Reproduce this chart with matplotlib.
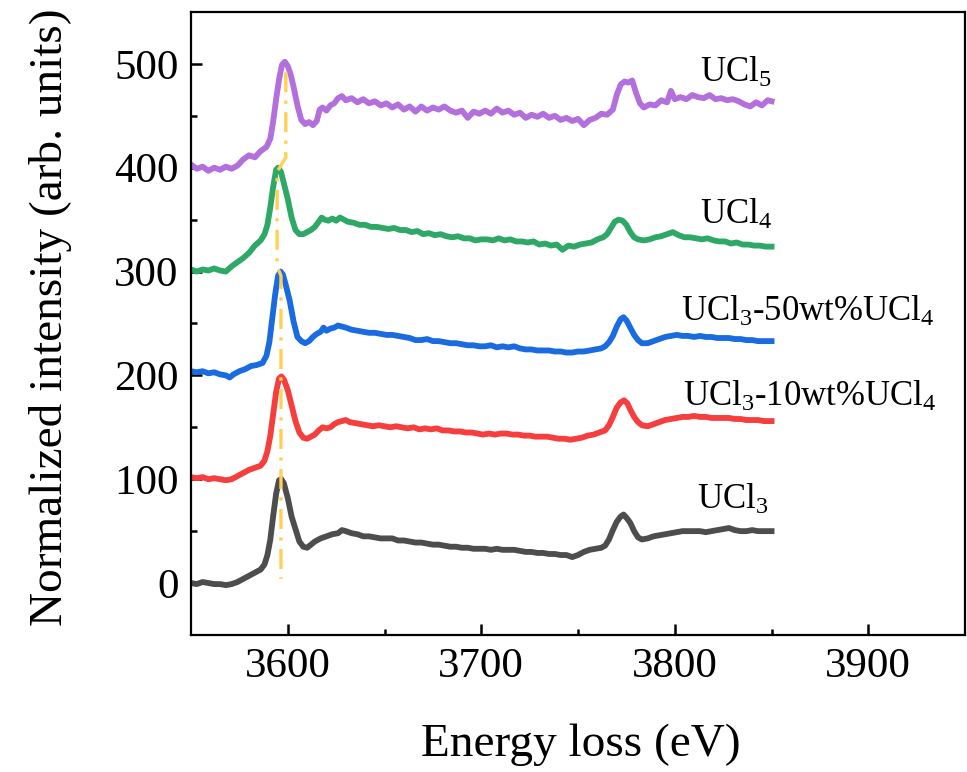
import numpy as np
import matplotlib
matplotlib.use("Agg")
import matplotlib.pyplot as plt

plt.rcParams["font.family"] = ["Liberation Serif", "DejaVu Serif"]
plt.rcParams["mathtext.fontset"] = "custom"
plt.rcParams["mathtext.rm"] = "Liberation Serif"
plt.rcParams["mathtext.it"] = "Liberation Serif:italic"

# (energy loss eV, intensity), curves already offset
ucl5 = [
    (3550, 403), (3553, 399), (3556, 401), (3559, 397), (3562, 400), (3565, 398), (3568, 401),
    (3571, 399), (3574, 402), (3577, 408), (3580, 412), (3583, 410), (3586, 416), (3589, 420),
    (3591, 428), (3592.5, 445), (3594, 466), (3595.5, 485), (3597, 499), (3598.5, 502),
    (3600, 498), (3601.5, 490), (3603, 478), (3605, 460), (3607, 446), (3609, 442), (3611, 444),
    (3613, 441), (3615, 445), (3616.5, 456), (3618, 458), (3620, 455), (3622, 460), (3624, 462),
    (3626, 467), (3628, 469), (3630, 465), (3633, 467), (3636, 463), (3639, 466), (3642, 462),
    (3645, 464), (3648, 460), (3651, 462), (3654, 458), (3657, 461), (3660, 456), (3663, 459),
    (3666, 454), (3669, 459), (3672, 455), (3675, 458), (3678, 456), (3681, 459), (3684, 455),
    (3687, 453), (3690, 455), (3693, 448), (3696, 454), (3699, 452), (3702, 455), (3705, 452),
    (3708, 457), (3711, 453), (3714, 455), (3717, 451), (3720, 453), (3723, 448), (3726, 451),
    (3729, 449), (3732, 452), (3735, 448), (3738, 450), (3741, 446), (3744, 448), (3747, 445),
    (3750, 447), (3753, 441), (3756, 446), (3759, 448), (3762, 452), (3765, 451), (3768, 456),
    (3770, 470), (3772, 480), (3774, 483), (3776, 482), (3778, 484), (3780, 472), (3782, 462),
    (3784, 458), (3787, 461), (3790, 460), (3793, 465), (3796, 463), (3798, 474), (3800, 466),
    (3803, 468), (3806, 466), (3809, 470), (3812, 468), (3815, 467), (3818, 470), (3821, 466),
    (3824, 467), (3827, 465), (3830, 466), (3833, 464), (3836, 461), (3839, 459), (3842, 463),
    (3845, 460), (3848, 465), (3850, 464),
]
ucl4 = [
    (3550, 302), (3553, 300), (3556, 302), (3559, 301), (3562, 303), (3565, 301), (3568, 300),
    (3571, 305), (3574, 309), (3577, 313), (3580, 318), (3583, 325), (3586, 330), (3588, 336),
    (3589.5, 345), (3591, 362), (3592.5, 382), (3594, 398), (3595, 400), (3596.5, 396),
    (3598, 385), (3600, 370), (3602, 352), (3604, 340), (3606, 336), (3608, 336), (3610, 338),
    (3612, 340), (3614, 343), (3616, 348), (3617.5, 352), (3619, 350), (3621, 349), (3623, 351),
    (3625, 349), (3627, 352), (3629, 350), (3631, 348), (3634, 347), (3637, 345), (3640, 345),
    (3643, 343), (3646, 343), (3649, 342), (3652, 341), (3655, 342), (3658, 340), (3661, 340),
    (3664, 338), (3667, 339), (3670, 336), (3673, 337), (3676, 335), (3679, 336), (3682, 334),
    (3685, 333), (3688, 334), (3691, 332), (3694, 332), (3697, 330), (3700, 331), (3703, 331),
    (3706, 330), (3709, 332), (3712, 330), (3715, 331), (3718, 329), (3721, 329), (3724, 328),
    (3727, 329), (3730, 326), (3733, 327), (3736, 325), (3739, 326), (3742, 321), (3745, 325),
    (3748, 324), (3751, 326), (3754, 327), (3757, 328), (3760, 331), (3763, 333), (3765, 336),
    (3767, 342), (3769, 348), (3771, 350), (3773, 349), (3775, 345), (3777, 338), (3779, 333),
    (3781, 331), (3784, 330), (3787, 331), (3790, 333), (3793, 334), (3796, 336), (3799, 338),
    (3802, 335), (3805, 333), (3808, 333), (3811, 332), (3814, 331), (3817, 332), (3820, 330),
    (3823, 329), (3826, 329), (3829, 327), (3832, 328), (3835, 326), (3838, 326), (3841, 325),
    (3844, 325), (3847, 324), (3850, 324),
]
ucl3_50 = [
    (3550, 204), (3553, 203), (3556, 204), (3559, 202), (3562, 203), (3565, 201), (3568, 200),
    (3570, 198), (3572, 201), (3575, 204), (3578, 206), (3581, 209), (3584, 210), (3587, 212),
    (3589, 219), (3590.5, 232), (3592, 255), (3593.5, 278), (3595, 296), (3596.3, 300),
    (3597.5, 297), (3599, 287), (3601, 272), (3603, 252), (3605, 237), (3607, 233), (3609, 231),
    (3611, 233), (3613, 237), (3615, 240), (3617, 242), (3618.5, 246), (3620, 243), (3622, 245),
    (3624, 246), (3626, 248), (3628, 247), (3630, 246), (3633, 244), (3636, 243), (3639, 242),
    (3642, 241), (3645, 241), (3648, 240), (3651, 239), (3654, 239), (3657, 238), (3660, 237),
    (3663, 236), (3666, 234), (3669, 234), (3672, 235), (3675, 233), (3678, 233), (3681, 232),
    (3684, 231), (3687, 231), (3690, 230), (3693, 229), (3696, 229), (3699, 228), (3702, 228),
    (3705, 229), (3708, 227), (3711, 228), (3714, 227), (3717, 228), (3720, 226), (3723, 225),
    (3726, 225), (3729, 224), (3732, 224), (3735, 224), (3738, 223), (3741, 223), (3744, 222),
    (3747, 222), (3750, 223), (3753, 223), (3756, 224), (3759, 225), (3762, 226), (3764, 228),
    (3766, 232), (3768, 238), (3770, 247), (3772, 254), (3773.5, 256), (3775, 253), (3777, 246),
    (3779, 239), (3781, 234), (3783, 231), (3786, 231), (3789, 233), (3792, 235), (3795, 237),
    (3798, 238), (3801, 239), (3804, 238), (3807, 238), (3810, 237), (3813, 238), (3816, 237),
    (3819, 237), (3822, 236), (3825, 236), (3828, 236), (3831, 235), (3834, 235), (3837, 234),
    (3840, 234), (3843, 233), (3846, 233), (3850, 233),
]
ucl3_10 = [
    (3550, 102), (3553, 101), (3556, 102), (3559, 100), (3562, 101), (3565, 100), (3568, 99),
    (3571, 100), (3574, 103), (3577, 106), (3580, 109), (3583, 111), (3586, 113), (3588, 118),
    (3589.5, 127), (3591, 142), (3592.5, 163), (3594, 184), (3595.5, 197), (3596.7, 199),
    (3598, 196), (3600, 186), (3602, 171), (3604, 156), (3606, 145), (3608, 140), (3610, 139),
    (3612, 141), (3614, 143), (3616, 147), (3618, 150), (3620, 149), (3622, 150), (3624, 153),
    (3626, 155), (3628, 156), (3630, 157), (3632, 155), (3635, 154), (3638, 153), (3641, 152),
    (3644, 151), (3647, 152), (3650, 151), (3653, 150), (3656, 151), (3659, 150), (3662, 149),
    (3665, 150), (3668, 148), (3671, 149), (3674, 148), (3677, 149), (3680, 147), (3683, 147),
    (3686, 146), (3689, 146), (3692, 145), (3695, 145), (3698, 144), (3701, 143), (3704, 144),
    (3707, 143), (3710, 144), (3713, 144), (3716, 143), (3719, 143), (3722, 142), (3725, 142),
    (3728, 141), (3731, 141), (3734, 141), (3737, 140), (3740, 139), (3743, 139), (3746, 138),
    (3749, 139), (3752, 140), (3755, 142), (3758, 143), (3761, 145), (3764, 147), (3766, 152),
    (3768, 160), (3770, 169), (3772, 174), (3773.8, 176), (3775.5, 173), (3777, 167),
    (3779, 160), (3781, 155), (3783, 152), (3786, 151), (3789, 153), (3792, 155), (3795, 157),
    (3798, 158), (3801, 159), (3804, 160), (3807, 160), (3810, 161), (3813, 160), (3816, 160),
    (3819, 159), (3822, 159), (3825, 159), (3828, 159), (3831, 158), (3834, 158), (3837, 157),
    (3840, 157), (3843, 157), (3846, 156), (3850, 156),
]
ucl3 = [
    (3550, 0), (3553, -1), (3556, 1), (3559, 0), (3562, -1), (3565, -1), (3568, -2),
    (3571, -1), (3574, 1), (3577, 4), (3580, 7), (3583, 10), (3586, 13), (3588, 18),
    (3589.5, 27), (3591, 42), (3592.5, 65), (3594, 86), (3595.5, 99), (3596.7, 100),
    (3598, 96), (3600, 82), (3602, 64), (3604, 52), (3606, 40), (3608, 35), (3610, 34),
    (3612, 37), (3614, 40), (3617, 43), (3620, 45), (3623, 47), (3626, 48), (3628, 51),
    (3630, 50), (3633, 48), (3636, 47), (3639, 45), (3642, 45), (3645, 44), (3648, 43),
    (3651, 43), (3654, 43), (3657, 41), (3660, 41), (3663, 40), (3666, 39), (3669, 39),
    (3672, 38), (3675, 37), (3678, 37), (3681, 36), (3684, 35), (3687, 35), (3690, 34),
    (3693, 34), (3696, 33), (3699, 33), (3702, 33), (3705, 32), (3708, 33), (3711, 32),
    (3714, 32), (3717, 32), (3720, 31), (3723, 30), (3726, 30), (3729, 29), (3732, 29),
    (3735, 28), (3738, 28), (3741, 27), (3744, 27), (3747, 25), (3750, 27), (3753, 30),
    (3756, 32), (3759, 33), (3762, 34), (3764, 36), (3766, 42), (3768, 51), (3770, 59),
    (3772, 64), (3773.5, 66), (3775, 63), (3777, 58), (3779, 50), (3781, 44), (3783, 42),
    (3786, 43), (3789, 45), (3792, 46), (3795, 47), (3798, 48), (3801, 49), (3804, 50),
    (3807, 50), (3810, 50), (3813, 50), (3816, 49), (3819, 50), (3822, 51), (3825, 52),
    (3828, 53), (3831, 51), (3834, 50), (3837, 50), (3840, 51), (3843, 50), (3846, 50),
    (3850, 50),
]

# guide line through the main edge peaks
guide_x = [3599, 3599, 3594.5, 3594.5, 3596.5, 3596.5]
guide_y = [492, 410, 396, 305, 296, 4]

labels = ["UCl$_3$", "UCl$_3$-10wt%UCl$_4$", "UCl$_3$-50wt%UCl$_4$", "UCl$_4$", "UCl$_5$"]
label_x = [3811.5, 3804, 3803, 3813, 3813]
label_y = [71, 171, 252, 346, 483]
series = [ucl3, ucl3_10, ucl3_50, ucl4, ucl5]
colors = ["#4d4d4d", "#f63e3e", "#1a6be0", "#2ea866", "#b36fdc"]

fig = plt.figure(figsize=(9.67, 7.72), dpi=100)
ax = fig.add_axes([0.1975, 0.1775, 0.8005, 0.807])

for data, c in zip(series, colors):
    d = np.array(data)
    ax.plot(d[:, 0], d[:, 1], color=c, lw=4.2, solid_joinstyle="round")

ax.plot(guide_x, guide_y, color="#ffd055", lw=2.4, linestyle=(0, (6, 2.5, 1, 2.5)))

for t, x, y in zip(labels, label_x, label_y):
    ax.text(x, y, t, fontsize=25, ha="left", va="baseline")

ax.set_xlim(3550, 3950)
ax.set_ylim(-50, 550)
ax.set_xticks([3600, 3700, 3800, 3900])
ax.set_xticks([3650, 3750, 3850], minor=True)
ax.set_yticks([0, 100, 200, 300, 400, 500])
ax.set_yticks([50, 150, 250, 350, 450], minor=True)
ax.tick_params(which="both", direction="in", top=False, right=False, width=1.8)
ax.tick_params(which="major", length=8, labelsize=31, pad=9)
ax.tick_params(which="minor", length=4)
for s in ax.spines.values():
    s.set_linewidth(1.6)

ax.set_xlabel("Energy loss (eV)", fontsize=34)
ax.set_ylabel("Normalized intensity (arb. units)", fontsize=34)
ax.xaxis.set_label_coords(0.503, -0.177)
ax.yaxis.set_label_coords(-0.182, 0.51)
ax.xaxis.label.set_va("center")
ax.yaxis.label.set_va("center")

fig.savefig("out.png", dpi=100)
